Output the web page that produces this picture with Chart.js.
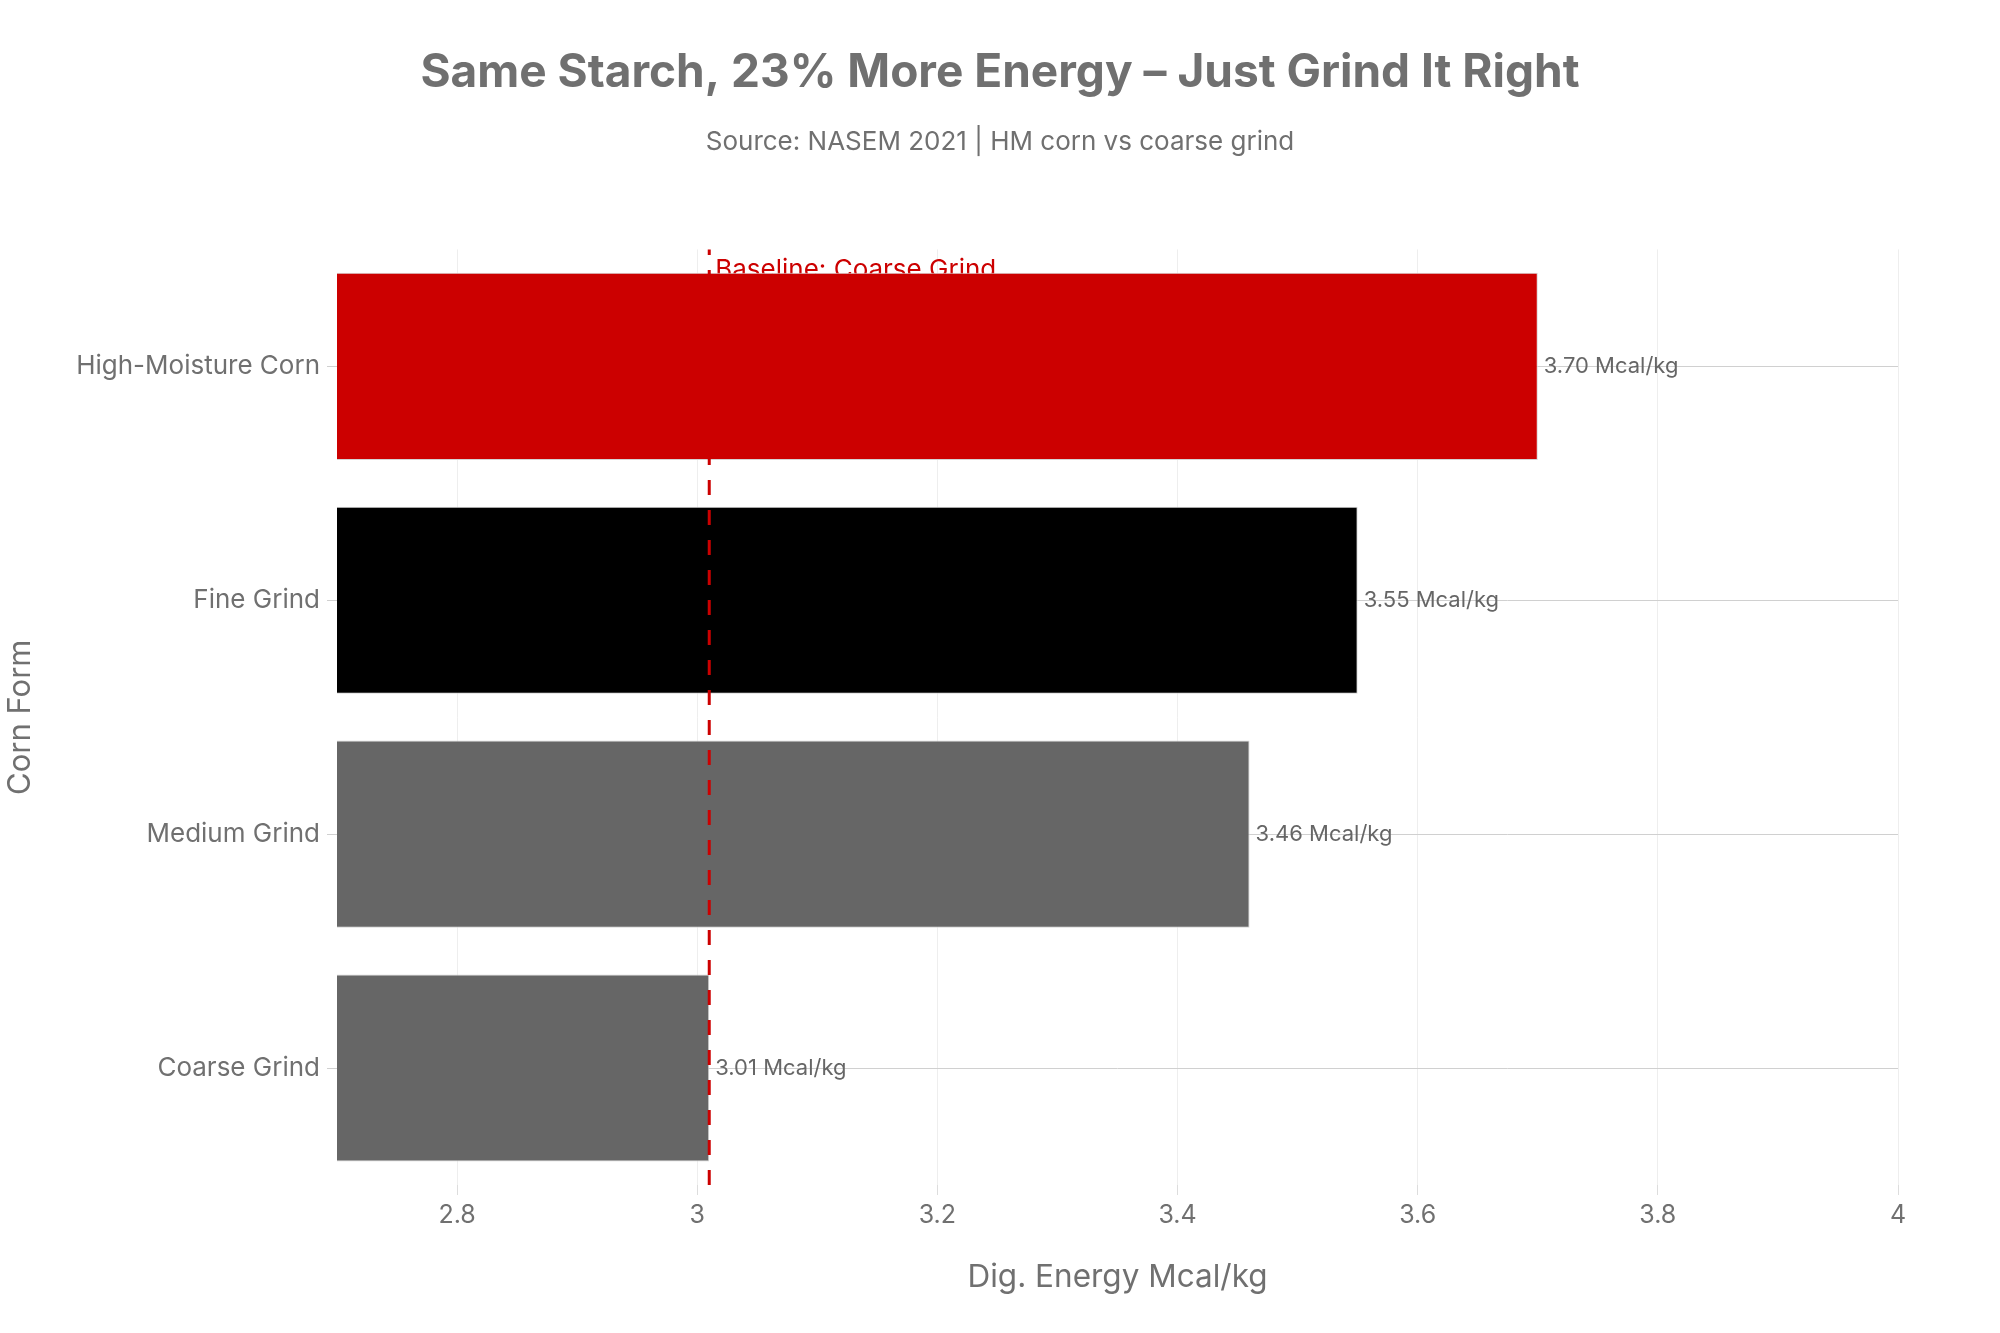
<!DOCTYPE html>
<html>
<head>
<meta charset="utf-8">
<title>Dig. Energy by Corn Form</title>
<script src="https://cdn.jsdelivr.net/npm/chart.js@4.4.1/dist/chart.umd.min.js"></script>
<style>
	html, body { margin: 0; padding: 0; background: #fff; }
	#wrap { width: 2000px; height: 1333px; position: relative; }
</style>
</head>
<body>
<div id="wrap"><canvas id="energyChart"></canvas></div>
<script>
const cornForms = ['High-Moisture Corn', 'Fine Grind', 'Medium Grind', 'Coarse Grind'];
const energyValues = [3.70, 3.55, 3.46, 3.01];
const barColors = ['#cc0000', '#000000', '#666666', '#666666'];
const xTickValues = [2.8, 3, 3.2, 3.4, 3.6, 3.8, 4];
const baselineValue = 3.01;
const baselineLabel = 'Baseline: Coarse Grind';

(function () {
	const FONT = 'Inter, "Liberation Sans", Arial, sans-serif';
	const GREY = '#707070';

	// value text at the end of each bar
	const valueLabels = {
		id: 'valueLabels',
		afterDatasetsDraw(chart) {
			const ctx = chart.ctx;
			const meta = chart.getDatasetMeta(0);
			ctx.save();
			ctx.font = `22px ${FONT}`;
			ctx.fillStyle = '#666666';
			ctx.textAlign = 'left';
			ctx.textBaseline = 'middle';
			meta.data.forEach(function (bar, i) {
				ctx.fillText(`${energyValues[i].toFixed(2)} Mcal/kg`, bar.x + 6, bar.y);
			});
			ctx.restore();
		},
	};

	// dashed reference line; its label sits under the bars
	const baseline = {
		id: 'baseline',
		beforeDatasetsDraw(chart) {
			const ctx = chart.ctx;
			const x = chart.scales.x.getPixelForValue(baselineValue);
			ctx.save();
			ctx.font = `26px ${FONT}`;
			ctx.fillStyle = '#cc0000';
			ctx.textAlign = 'left';
			ctx.textBaseline = 'alphabetic';
			ctx.fillText(baselineLabel, x + 6, chart.chartArea.top + 29);
			ctx.restore();
		},
		afterDatasetsDraw(chart) {
			const ctx = chart.ctx;
			const area = chart.chartArea;
			const x = chart.scales.x.getPixelForValue(baselineValue);
			ctx.save();
			ctx.strokeStyle = '#cc0000';
			ctx.lineWidth = 3;
			ctx.setLineDash([15, 15]);
			ctx.beginPath();
			ctx.moveTo(x, area.bottom);
			ctx.lineTo(x, area.top);
			ctx.stroke();
			ctx.restore();
		},
	};

	function energyChart(labels, values) {
		const config = {
			type: 'bar',
			data: {
				labels: labels,
				datasets: [
					{
						label: 'Dig. Energy Mcal/kg',
						data: values,
						backgroundColor: barColors,
						borderColor: '#d4d4d4',
						borderWidth: 1,
						categoryPercentage: 1,
						barPercentage: 0.8,
						yAxisID: 'y',
					},
				],
			},
			options: {
				indexAxis: 'y',
				responsive: true,
				maintainAspectRatio: false,
				devicePixelRatio: 1,
				animation: false,
				layout: {
					padding: 0,
				},
				plugins: {
					legend: { display: false },
					tooltip: { enabled: false },
					title: {
						display: true,
						text: 'Same Starch, 23% More Energy – Just Grind It Right',
						color: GREY,
						font: { family: FONT, size: 46, weight: 'bold' },
						padding: { top: 46, bottom: 25 },
					},
					subtitle: {
						display: true,
						text: 'Source: NASEM 2021 | HM corn vs coarse grind',
						color: GREY,
						font: { family: FONT, size: 26 },
						padding: { top: 0, bottom: 92 },
					},
				},
				scales: {
					x: {
						min: 2.7,
						max: 4,
						afterBuildTicks: function (axis) {
							axis.ticks = xTickValues.map(v => ({ value: v }));
						},
						afterFit: function (axis) {
							axis.height = 148;
						},
						ticks: {
							color: GREY,
							padding: 5,
							font: { family: FONT, size: 25 },
							callback: v => String(v),
						},
						grid: {
							color: '#eeeeee',
							tickColor: '#dddddd',
							tickLength: 10,
						},
						border: { display: false },
						title: {
							display: true,
							text: 'Dig. Energy Mcal/kg',
							color: GREY,
							font: { family: FONT, size: 31.5 },
							padding: { top: 0, bottom: 37 },
						},
					},
					y: {
						afterFit: function (axis) {
							axis.width = 337;
						},
						ticks: {
							color: GREY,
							padding: 7,
							font: { family: FONT, size: 26 },
						},
						grid: {
							color: '#d0d0d0',
							tickColor: '#d0d0d0',
							tickLength: 10,
							offset: false,
						},
						border: { display: false },
						title: {
							display: true,
							text: 'Corn Form',
							color: GREY,
							font: { family: FONT, size: 31 },
							padding: { top: 2, bottom: 0 },
						},
					},
					// empty right margin, so the titles stay centred on the page
					yRight: {
						type: 'category',
						position: 'right',
						ticks: { display: false },
						grid: { display: false, drawTicks: false },
						border: { display: false },
						afterFit: function (axis) {
							axis.width = 102;
						},
					},
				},
			},
			plugins: [baseline, valueLabels],
		};
		new Chart(document.querySelector('#energyChart'), config);
	}
	energyChart(cornForms, energyValues);
})();
</script>
</body>
</html>
